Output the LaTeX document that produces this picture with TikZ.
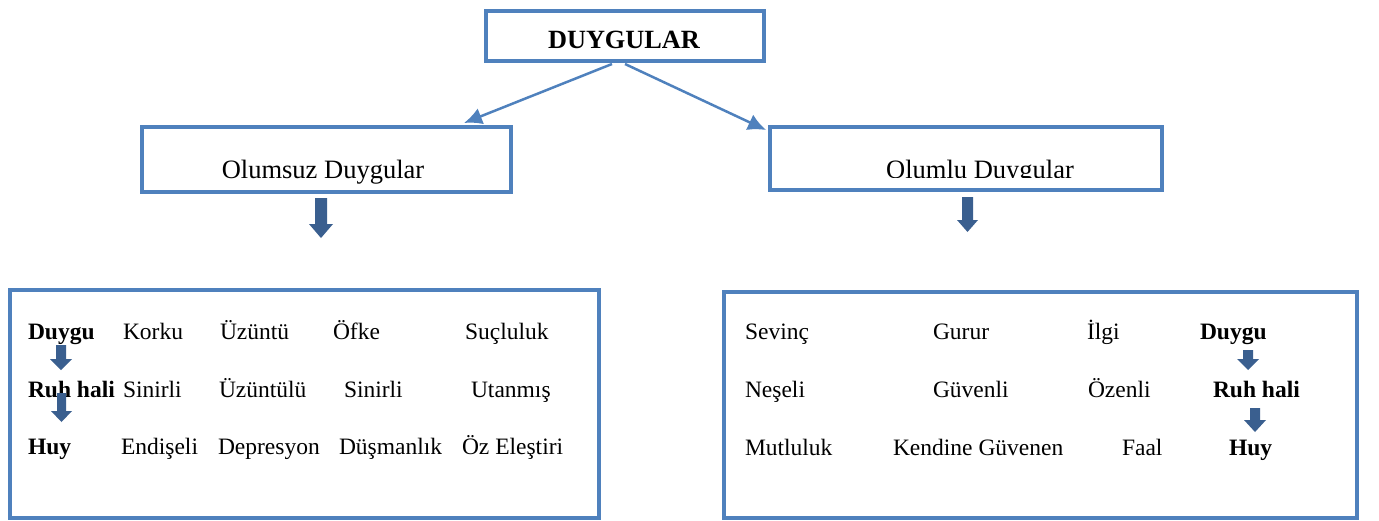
\documentclass[tikz,border=0pt]{standalone}
\usepackage{fontspec}
\setmainfont{Liberation Serif}
\usetikzlibrary{arrows.meta}
\definecolor{boxblue}{HTML}{4F81BD}
\definecolor{darkblue}{HTML}{3A5F8F}
\tikzset{
  frame/.style={draw=boxblue, line width=4pt, fill=white, inner sep=0pt, outer sep=0pt},
  lbl/.style={anchor=base west, inner sep=0pt, outer sep=0pt, font=\fontsize{23.5}{26}\selectfont},
  blbl/.style={lbl, font=\fontsize{23.5}{26}\selectfont\bfseries},
  head/.style={anchor=base, inner sep=0pt, font=\fontsize{26.5}{30}\selectfont},
  link/.style={draw=boxblue, line width=2.5pt, -{Latex[length=18pt,width=17pt]}},
  blockarrow/.style={fill=darkblue, draw=none}
}
\newcommand{\blockdown}[6]{% x-left shaft, x-right shaft, y top, y head, head half extra, y tip
  \fill[blockarrow] (#1,#3) -- (#2,#3) -- (#2,#4) -- ({#2+#5},#4) -- ({(#1+#2)/2},#6) -- ({#1-#5},#4) -- (#1,#4) -- cycle;}
\begin{document}
\begin{tikzpicture}[x=1pt,y=-1pt]
\useasboundingbox (0,0) rectangle (1379,520);
% boxes
\draw[frame] (486,11) rectangle (764,61);
\node[inner sep=0pt, font=\fontsize{26.3}{30}\selectfont\bfseries, anchor=base] (top) at (624,48) {DUYGULAR};
\coordinate (topL) at (612,64);
\coordinate (topR) at (625,64);
\draw[frame] (142,127) rectangle (511,192);
\draw[frame] (770,127) rectangle (1162,190);
\node[head] (neg) at (323,178) {Olumsuz Duygular};
\begin{scope}
\clip (772,129) rectangle (1160,177.5);
\node[head] (pos) at (980,178) {Olumlu Duygular};
\end{scope}
\coordinate (negIn) at (464,123);
\coordinate (posIn) at (766,130);
\draw[link] (topL) -- (negIn);
\draw[link] (topR) -- (posIn);
% big arrows
\blockdown{315}{327}{198}{224}{6}{238}
\blockdown{962}{973}{197}{220}{5}{232}
% big boxes
\draw[frame] (10,290) rectangle (599,518);
\draw[frame] (724,292) rectangle (1357,518);
% left content
\node[blbl] (lD) at (28,339) {Duygu};
\node[lbl] (l12) at (123,339) {Korku};
\node[lbl] (l13) at (220,339) {Üzüntü};
\node[lbl] (l14) at (333,339) {Öfke};
\node[lbl] (l15) at (465,339) {Suçluluk};
\node[blbl] (lR) at (28,397) {Ruh hali};
\node[lbl] (l22) at (123,397) {Sinirli};
\node[lbl] (l23) at (219,397) {Üzüntülü};
\node[lbl] (l24) at (344,397) {Sinirli};
\node[lbl] (l25) at (471,397) {Utanmış};
\node[blbl] (lH) at (28,454) {Huy};
\node[lbl] (l32) at (121,454) {Endişeli};
\node[lbl] (l33) at (218,454) {Depresyon};
\node[lbl] (l34) at (339,454) {Düşmanlık};
\node[lbl] (l35) at (462,454) {Öz Eleştiri};
\blockdown{56}{66}{345}{359}{6}{370}
\blockdown{57}{66}{393}{411}{6}{422}
% right content
\node[lbl] (r11) at (745,339) {Sevinç};
\node[lbl] (r12) at (933,339) {Gurur};
\node[lbl] (r13) at (1087,339) {İlgi};
\node[blbl] (rD) at (1200,339) {Duygu};
\node[lbl] (r21) at (745,397) {Neşeli};
\node[lbl] (r22) at (933,397) {Güvenli};
\node[lbl] (r23) at (1088,397) {Özenli};
\node[blbl] (rR) at (1213,397) {Ruh hali};
\node[lbl] (r31) at (745,455) {Mutluluk};
\node[lbl] (r32) at (893,455) {Kendine Güvenen};
\node[lbl] (r33) at (1122,455) {Faal};
\node[blbl] (rH) at (1229,455) {Huy};
\blockdown{1243}{1253}{350}{359}{6}{370}
\blockdown{1250}{1260}{408}{420}{6}{432}
\end{tikzpicture}
\end{document}
